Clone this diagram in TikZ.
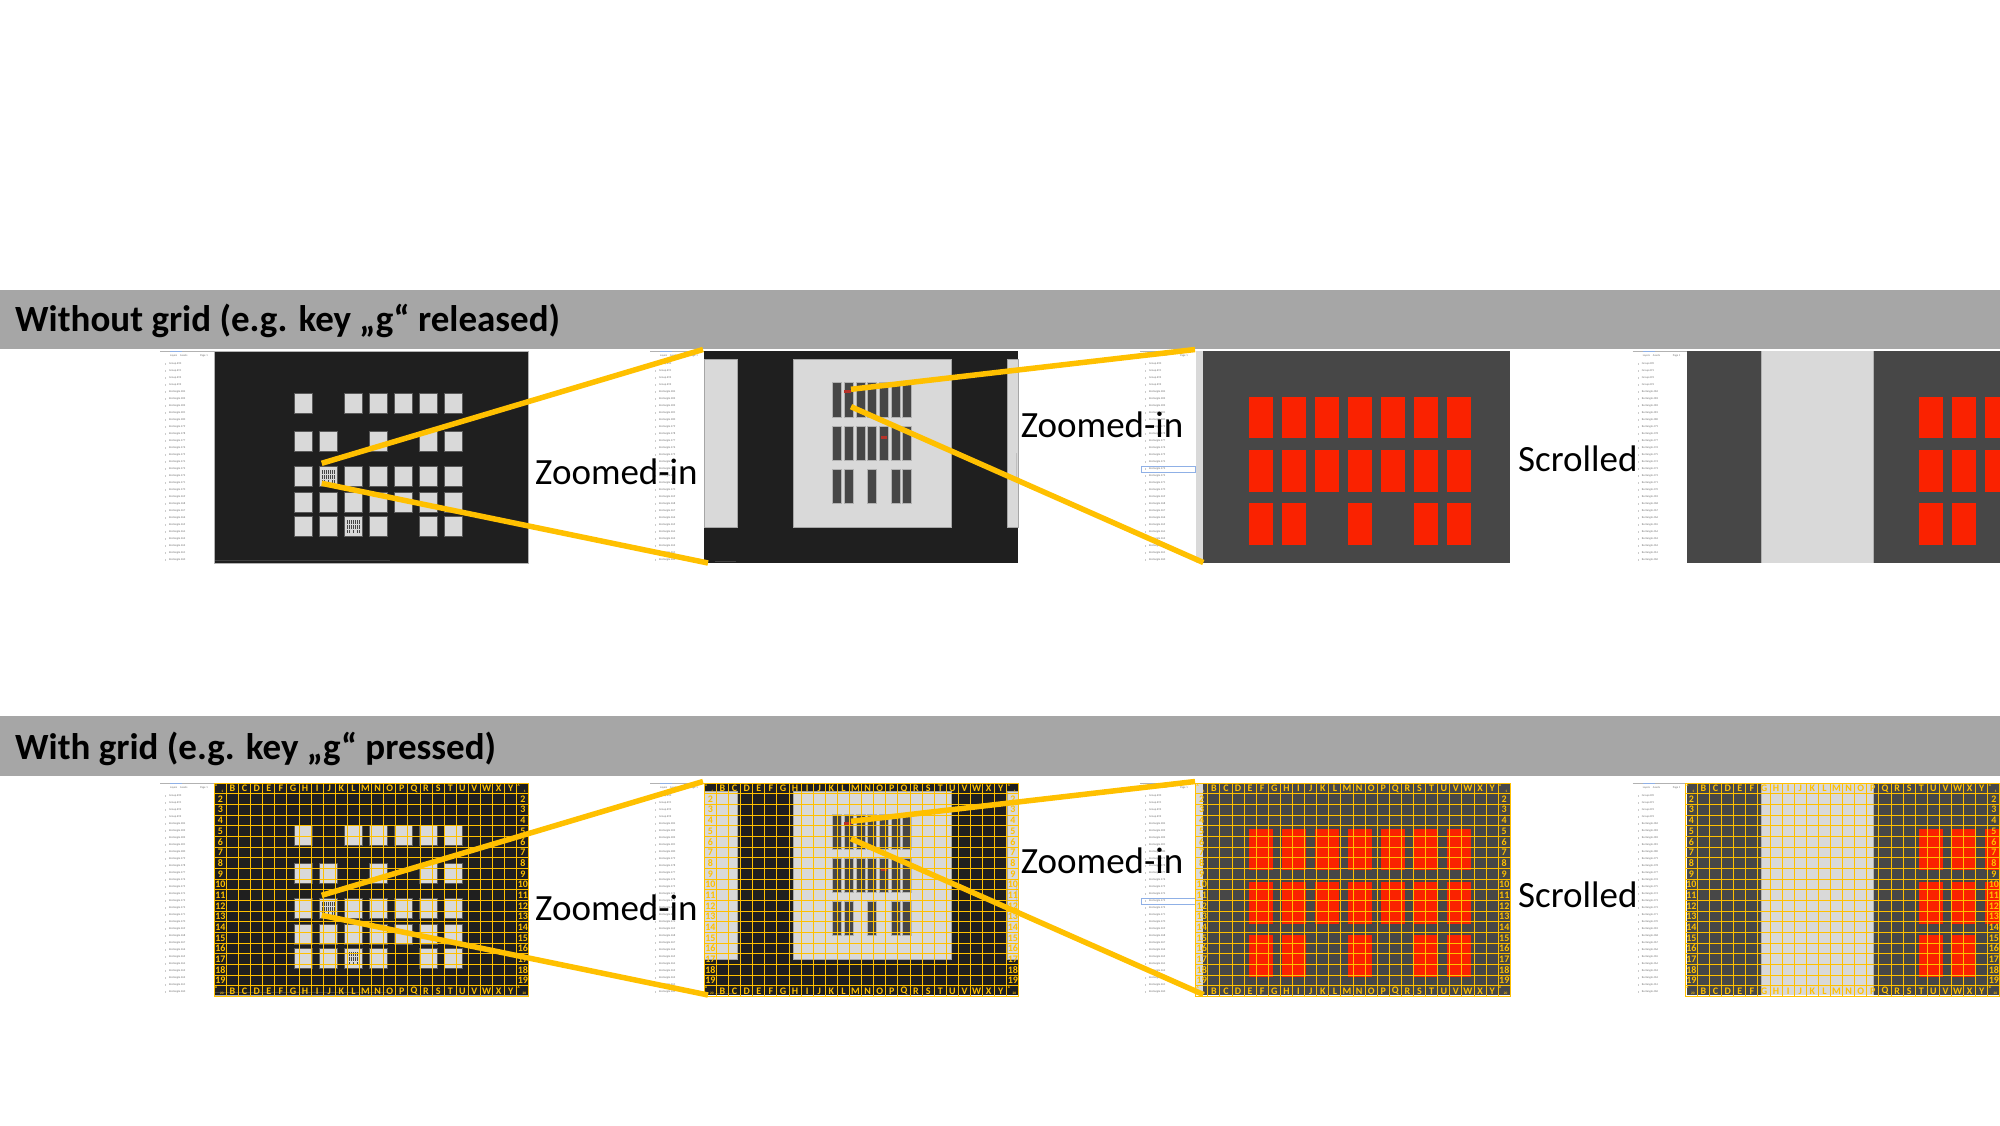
\documentclass[tikz,border=0pt]{standalone}
\usepackage{fontspec}
\setmainfont{Carlito}

\definecolor{bannergray}{HTML}{A6A6A6}
\definecolor{canvasdark}{HTML}{1F1F1F}
\definecolor{canvasmid}{HTML}{474747}
\definecolor{paneltone}{HTML}{D9D9D9}
\definecolor{barfill}{HTML}{464646}
\definecolor{shotred}{HTML}{FA2200}
\definecolor{markred}{HTML}{B5322A}
\definecolor{gridyellow}{HTML}{FFC000}
\definecolor{listgray}{HTML}{707070}
\definecolor{selblue}{HTML}{8FB0E6}

\tikzset{
  bannertext/.style={anchor=base west,inner sep=0pt,font=\fontsize{37}{44}\selectfont\bfseries},
  steplabel/.style={anchor=base west,inner sep=0pt,font=\fontsize{37}{44}\selectfont},
  panel/.style={fill=paneltone,draw=gray!70,line width=0.6pt},
  tile/.style={fill=paneltone,draw=black!65,line width=1pt},
  bar/.style={fill=barfill,draw=gray!60,line width=0.5pt},
  redbox/.style={fill=shotred,draw=none},
  zoomline/.style={draw=gridyellow,line width=5.5pt},
  listitem/.style={anchor=west,inner sep=0pt,text=listgray,font=\fontsize{2.8}{3}\selectfont},
  gridline/.style={draw=gridyellow,line width=1pt},
  gridlabel/.style={inner sep=0pt,text=gridyellow,font=\fontsize{10}{10}\selectfont\bfseries},
  gridtiny/.style={inner sep=0pt,text=gridyellow,font=\fontsize{3.5}{4}\selectfont\bfseries},
}

% layer list left of each screenshot
\newcommand{\sidebar}[2]{%
  \fill[white] (#1,351) rectangle ++(54.5,212);
  \draw[gray!60,line width=0.8pt] (#1,351) -- ++(54.5,0);
  \draw[selblue,line width=0.8pt] (#1+10,351) -- ++(12,0);
  \node[listitem] (#2-layers) at (#1+10,356) {Layers};
  \node[listitem] (#2-assets) at (#1+20,356) {Assets};
  \node[listitem] (#2-page) at (#1+40,356) {Page 1};
  \foreach \k in {0,...,28} {
    \draw[gray!40,line width=0.3pt] (#1+5,363+7*\k) -- ++(0,2);
    \node[listitem] (#2-\k) at (#1+9,364+7*\k)
      {\ifnum\k<4 Group 69\k\else Rectangle \number\numexpr 488-\k\relax\fi};
  }
}

% small frame icon inside a tile
\newcommand{\miniicon}[2]{%
  \foreach \c in {0,...,6} {
    \fill[barfill] (#1+2.5+2*\c,#2+3) rectangle ++(1.4,4);
    \fill[barfill] (#1+2.5+2*\c,#2+8) rectangle ++(1.4,4);
  }
  \foreach \c in {0,1,3,5,6}
    \fill[barfill] (#1+2.5+2*\c,#2+13) rectangle ++(1.4,3.5);
}

% the four screenshots of one row
\newcommand{\shotrow}[1]{%
  % Shot 1: overview
  \sidebar{160}{#1s1}
  \fill[canvasdark] (214,351) rectangle (528,563);
  \draw[gray!60,line width=0.6pt] (214,351) rectangle (528,563);
  \draw[black!75,line width=1pt] (215,560) -- (390,560);
  \foreach \y/\cols in {393.3/{1,3,4,5,6,7},431.7/{1,2,4,6,7},466.7/{1,2,3,4,5,6,7},
                        492/{1,2,3,4,5,6,7},516.7/{1,2,3,4,6,7}}
    \foreach \c in \cols
      \draw[tile] (294.3+25*\c-25,\y) rectangle ++(18.5,20);
  \miniicon{319.3}{466.7}
  \miniicon{344.3}{516.7}
  % Shot 2: zoomed-in
  \sidebar{650}{#1s2}
  \fill[canvasdark] (704,351) rectangle (1018,563);
  \draw[panel] (704,359) rectangle (737,527.3);
  \draw[panel] (793.3,359) rectangle (951.7,527.3);
  \draw[panel] (1007.3,359) rectangle (1018,527.3);
  \draw[gray!50,line width=1pt] (1016,453) -- (1016,483);
  \draw[black!75,line width=1pt] (715,561) -- (736,561);
  \foreach \y/\cols in {382.7/{1,2,3,4,5,6,7},426.3/{1,2,3,4,5,6,7},469/{1,2,4,6,7}}
    \foreach \c in \cols
      \draw[bar] (832.7+11.67*\c-11.67,\y) rectangle ++(8.7,34.3);
  \fill[markred] (844.3,390) rectangle (851,393.3);
  \fill[markred] (880.7,436) rectangle (887,439.3);
  % Shot 3: zoomed-in further
  \sidebar{1140}{#1s3}
  \draw[selblue,line width=0.6pt] (1141,466) rectangle (1195,472.7);
  \fill[paneltone] (1195.7,351) rectangle (1203.3,563);
  \fill[canvasmid] (1203.3,351) rectangle (1510,563);
  \foreach \y/\cols in {396.7/{1,2,3,4,5,6,7},450/{1,2,3,4,5,6,7},503.3/{1,2,4,6,7}}
    \foreach \c in \cols
      \fill[redbox] (1249+33*\c-33,\y) rectangle ++(24.4,41.7);
  % Shot 4: scrolled
  \sidebar{1632.7}{#1s4}
  \fill[canvasmid] (1687.3,351) rectangle (2000,563);
  \fill[paneltone] (1761.7,351) rectangle (1873.3,563);
  \draw[gray!60,line width=0.6pt] (1761.7,351) -- ++(0,212) (1873.3,351) -- ++(0,212);
  \foreach \y/\cols in {396.7/{1,2,3},450/{1,2,3},503.3/{1,2}}
    \foreach \c in \cols
      \fill[redbox] (1918.7+33*\c-33,\y) rectangle ++(24.4,41.7);
}

% yellow zoom connectors of one row
\newcommand{\zoomlines}[1]{%
  \coordinate (#1src1a) at (321.7,463.3);
  \coordinate (#1src1b) at (321.7,483.3);
  \coordinate (#1dst1a) at (703,349.5);
  \coordinate (#1dst1b) at (708,563);
  \coordinate (#1src2a) at (851,389.3);
  \coordinate (#1src2b) at (851,406.7);
  \coordinate (#1dst2a) at (1195,349.5);
  \coordinate (#1dst2b) at (1203.3,562.5);
  \draw[zoomline] (#1src1a) -- (#1dst1a);
  \draw[zoomline] (#1src1b) -- (#1dst1b);
  \draw[zoomline] (#1src2a) -- (#1dst2a);
  \draw[zoomline] (#1src2b) -- (#1dst2b);
}

% spreadsheet-like grid overlay
\newcommand{\gridover}[2]{%
  \foreach \i in {0,...,26}
    \draw[gridline] (#1+12.1*\i,351) -- ++(0,213.5);
  \foreach \j in {0,...,20}
    \draw[gridline] (#1,351+10.675*\j) -- ++(314.6,0);
  \foreach \L [count=\k from 1] in {B,...,Y} {
    \node[gridlabel] (#2-t\k) at (#1+12.1*\k+6.05,356.4) {\L};
    \node[gridlabel] (#2-b\k) at (#1+12.1*\k+6.05,559.2) {\L};
  }
  \foreach \n in {2,...,19} {
    \node[gridlabel] (#2-l\n) at (#1+6.05,351+10.675*\n-5.34) {\n};
    \node[gridlabel] (#2-r\n) at (#1+308.55,351+10.675*\n-5.34) {\n};
  }
  \foreach \cx/\cn in {0/w,25/e} {
    \node[gridtiny] (#2-a\cn) at (#1+12.1*\cx+2,353.5) {A};
    \node[gridtiny] (#2-n\cn) at (#1+12.1*\cx+8,359) {1};
    \node[gridtiny] (#2-c\cn) at (#1+12.1*\cx+2,555.5) {A};
    \node[gridtiny] (#2-m\cn) at (#1+12.1*\cx+7.5,561) {20};
  }
}

\begin{document}
\begin{tikzpicture}[x=1pt,y=-1pt]
  \useasboundingbox (0,0) rectangle (2000,1125);
  \clip (0,0) rectangle (2000,1125);

  % Banners
  \fill[bannergray] (0,290) rectangle (2000,349.3);
  \fill[bannergray] (0,716) rectangle (2000,776);
  \node[bannertext] (title1) at (15,331.7) {Without grid (e.g. key „g“ released)};
  \node[bannertext] (title2) at (15,759) {With grid (e.g. key „g“ pressed)};

  % Row 1: without grid
  \shotrow{r1}
  \zoomlines{r1}

  % Row 2: with grid
  \begin{scope}[yshift=-432pt]
    \shotrow{r2}
    \gridover{214.3}{g1}
    \gridover{704.3}{g2}
    \gridover{1195.7}{g3}
    \gridover{1685.3}{g4}
    \zoomlines{r2}
  \end{scope}

  % Labels
  \node[steplabel] (zoom1a) at (535,484) {Zoomed-in};
  \node[steplabel] (zoom1b) at (1020.7,437.3) {Zoomed-in};
  \node[steplabel] (scroll1) at (1518,471) {Scrolled};
  \node[steplabel] (zoom2a) at (535,920) {Zoomed-in};
  \node[steplabel] (zoom2b) at (1020.7,873) {Zoomed-in};
  \node[steplabel] (scroll2) at (1518,907) {Scrolled};
\end{tikzpicture}
\end{document}
